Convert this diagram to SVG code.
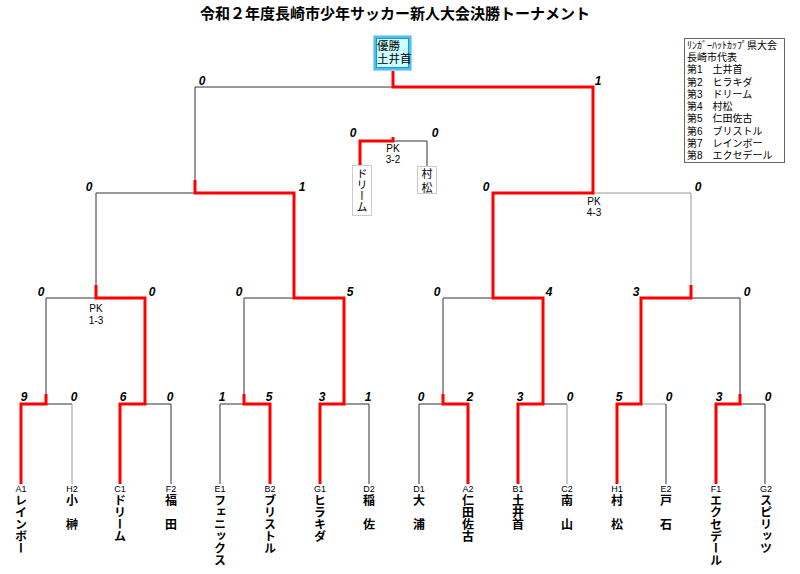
<svg xmlns="http://www.w3.org/2000/svg" width="800" height="574" viewBox="0 0 800 574">
<style>
.title{font-family:"Noto Sans CJK JP","Noto Sans CJK SC",sans-serif;font-size:15px;font-weight:bold;fill:#000}
.ln{fill:none;stroke:#333;stroke-width:1}
.lg{fill:none;stroke:#999;stroke-width:1}
.rd{fill:none;stroke:#ff0000;stroke-width:3;stroke-linejoin:miter;stroke-linecap:butt}
.sc{font-family:"Liberation Sans",Arial,sans-serif;font-size:12px;font-weight:bold;font-style:italic;fill:#000;text-anchor:middle}
.code{font-family:"Liberation Sans",Arial,sans-serif;font-size:9px;fill:#000;text-anchor:middle}
.nm{font-family:"Noto Sans CJK JP","Noto Sans CJK SC",sans-serif;font-size:12px;font-weight:bold;fill:#000;writing-mode:vertical-rl;text-orientation:upright}
.pk{font-family:"Liberation Sans",Arial,sans-serif;font-size:10px;fill:#000;text-anchor:middle}
.lgd{font-family:"Liberation Sans","Noto Sans CJK JP","Noto Sans CJK SC",sans-serif;font-size:10px;fill:#000}
.box3{fill:#fff;stroke:#ccc;stroke-width:1}
.nm3{font-family:"Noto Sans CJK JP","Noto Sans CJK SC",sans-serif;font-size:11px;fill:#000;writing-mode:vertical-rl;text-orientation:upright}
</style>
<rect width="800" height="574" fill="#fff"/>
<text class="title" x="395" y="19" text-anchor="middle">令和２年度長崎市少年サッカー新人大会決勝トーナメント</text>

<g id="connectors">
  <path class="ln" d="M21,484V404H72M120,404H171V484M220,484V404H270M320,404H369V484M419,484V404H468M518,404H567M617,404H641M716,404H765V484"/>
  <path class="lg" d="M72,404V484M220,404V484M567,404V484M641,404H666"/>
  <path class="ln" d="M666,404V484M46,404V298M145,404V298M244,404V298M344,404V298M443,404V298M543,404V298M641,404V298M740,404V298"/>
  <path class="ln" d="M46,298H145M244,298H344M543,298H443M641,298H740"/>
  <path class="ln" d="M96,298V193M294,298V193M493,298V193"/>
  <path class="lg" d="M443,298V404M691,298V193M592,193H691"/>
  <path class="ln" d="M96,193H294M493,193H592M195,193V87M195,87H593"/>
  <path class="ln" d="M360,165V141H427V167"/>
  <path class="rd" d="M21,484V404H46V394"/>
  <path class="rd" d="M120,484V404H145V298H96V285"/>
  <path class="rd" d="M270,484V404H244V394"/>
  <path class="rd" d="M320,484V404H344V298H294V193H195V180"/>
  <path class="rd" d="M393,71V87H593V193H493V298H543V404H518V484"/>
  <path class="rd" d="M468,484V404H443V394"/>
  <path class="rd" d="M617,484V404H641V298H691V285"/>
  <path class="rd" d="M716,484V404H740V394"/>
  <path class="rd" d="M360,165V141H393V137"/>
</g>

<g id="scores">
  <text class="sc" x="202" y="85">0</text><text class="sc" x="598" y="85">1</text>
  <text class="sc" x="89" y="191">0</text><text class="sc" x="302" y="191">1</text>
  <text class="sc" x="486" y="191">0</text><text class="sc" x="698" y="191">0</text>
  <text class="sc" x="41" y="296">0</text><text class="sc" x="152" y="296">0</text>
  <text class="sc" x="239" y="296">0</text><text class="sc" x="350" y="296">5</text>
  <text class="sc" x="437" y="296">0</text><text class="sc" x="549" y="296">4</text>
  <text class="sc" x="636" y="296">3</text><text class="sc" x="747" y="296">0</text>
  <text class="sc" x="24" y="401">9</text><text class="sc" x="74" y="401">0</text>
  <text class="sc" x="123" y="401">6</text><text class="sc" x="170" y="401">0</text>
  <text class="sc" x="222" y="401">1</text><text class="sc" x="269" y="401">5</text>
  <text class="sc" x="322" y="401">3</text><text class="sc" x="368" y="401">1</text>
  <text class="sc" x="421" y="401">0</text><text class="sc" x="470" y="401">2</text>
  <text class="sc" x="520" y="401">3</text><text class="sc" x="570" y="401">0</text>
  <text class="sc" x="619" y="401">5</text><text class="sc" x="669" y="401">0</text>
  <text class="sc" x="719" y="401">3</text><text class="sc" x="768" y="401">0</text>
  <text class="sc" x="353" y="137">0</text><text class="sc" x="435" y="137">0</text>
</g>

<g id="pk-labels">
  <text class="pk" x="96" y="312">PK</text><text class="pk" x="96" y="323.5">1-3</text>
  <text class="pk" x="594" y="204.5">PK</text><text class="pk" x="594" y="216">4-3</text>
  <text class="pk" x="393" y="151.5">PK</text><text class="pk" x="393" y="163">3-2</text>
</g>

<g id="winner">
  <rect x="373.5" y="35.5" width="38" height="35" fill="#55bbee" stroke="#99ddff" stroke-width="1"/>
  <rect x="376.5" y="38.5" width="32" height="29" fill="#ccffff" stroke="#1199dd" stroke-width="1"/>
  <text class="lgd" x="377" y="50" style="font-size:11.5px">優勝</text>
  <text class="lgd" x="377" y="63" style="font-size:11.5px">土井首</text>
</g>

<g id="legend">
  <rect x="684.5" y="38.5" width="100" height="124" fill="#fff" stroke="#666"/>
  <text class="lgd" x="687" y="49">ﾘﾝｶﾞｰﾊｯﾄｶｯﾌﾟ県大会</text>
  <text class="lgd" x="687" y="61">長崎市代表</text>
  <text class="lgd" x="687" y="73">第1　土井首</text>
  <text class="lgd" x="687" y="86">第2　ヒラキダ</text>
  <text class="lgd" x="687" y="98">第3　ドリーム</text>
  <text class="lgd" x="687" y="110">第4　村松</text>
  <text class="lgd" x="687" y="122">第5　仁田佐古</text>
  <text class="lgd" x="687" y="135">第6　ブリストル</text>
  <text class="lgd" x="687" y="147">第7　レインボー</text>
  <text class="lgd" x="687" y="159">第8　エクセデール</text>
</g>

<g id="third-dream">
  <rect class="box3" x="352.5" y="165.5" width="19" height="50"/>
  <text class="nm3" x="362" y="168">ドリーム</text>
</g>
<g id="third-muramatsu">
  <rect class="box3" x="417.5" y="166.5" width="19" height="27"/>
  <text class="nm3" x="427" y="168" style="letter-spacing:3px">村松</text>
</g>

<g id="team-A1"><text class="code" x="21" y="492">A1</text><text class="nm" x="21" y="494">レインボー</text></g>
<g id="team-H2"><text class="code" x="72" y="492">H2</text><text class="nm" x="72" y="494">小　榊</text></g>
<g id="team-C1"><text class="code" x="120" y="492">C1</text><text class="nm" x="120" y="494">ドリーム</text></g>
<g id="team-F2"><text class="code" x="171" y="492">F2</text><text class="nm" x="171" y="494">福　田</text></g>
<g id="team-E1"><text class="code" x="220" y="492">E1</text><text class="nm" x="220" y="494">フェニックス</text></g>
<g id="team-B2"><text class="code" x="270" y="492">B2</text><text class="nm" x="270" y="494">ブリストル</text></g>
<g id="team-G1"><text class="code" x="320" y="492">G1</text><text class="nm" x="320" y="494">ヒラキダ</text></g>
<g id="team-D2"><text class="code" x="369" y="492">D2</text><text class="nm" x="369" y="494">稲　佐</text></g>
<g id="team-D1"><text class="code" x="419" y="492">D1</text><text class="nm" x="419" y="494">大　浦</text></g>
<g id="team-A2"><text class="code" x="468" y="492">A2</text><text class="nm" x="468" y="494">仁田佐古</text></g>
<g id="team-B1"><text class="code" x="518" y="492">B1</text><text class="nm" x="518" y="494">土井首</text></g>
<g id="team-C2"><text class="code" x="567" y="492">C2</text><text class="nm" x="567" y="494">南　山</text></g>
<g id="team-H1"><text class="code" x="617" y="492">H1</text><text class="nm" x="617" y="494">村　松</text></g>
<g id="team-E2"><text class="code" x="666" y="492">E2</text><text class="nm" x="666" y="494">戸　石</text></g>
<g id="team-F1"><text class="code" x="716" y="492">F1</text><text class="nm" x="716" y="494">エクセデール</text></g>
<g id="team-G2"><text class="code" x="766" y="492">G2</text><text class="nm" x="766" y="494">スピリッツ</text></g>
</svg>
